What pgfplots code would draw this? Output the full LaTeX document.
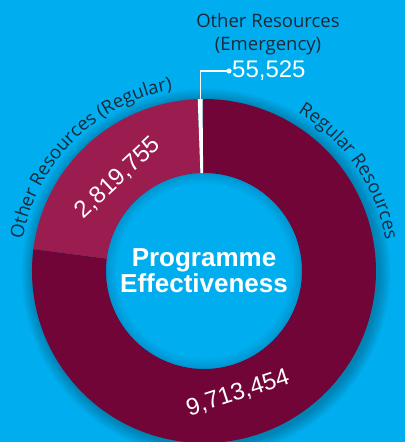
\documentclass[border=0pt]{standalone}
\usepackage{pgfplots}
\usepackage{pgfplotstable}
\pgfplotsset{compat=1.18}
\usepackage{fontspec}
\setmainfont{Liberation Sans}
\newfontfamily\labelfont{Open Sans}
\usetikzlibrary{decorations.text}

\definecolor{bgblue}{HTML}{00AEEF}
\definecolor{regular}{HTML}{720537}
\definecolor{otherreg}{HTML}{9B1C4F}
\definecolor{labeltext}{HTML}{1B2A3A}

% donut data
\pgfplotstableread{
slice value
Emergency 55525
OtherRegular 2819755
Regular 9713454
}\slices

\pgfplotstablegetelem{0}{value}\of\slices \let\vEmer\pgfplotsretval
\pgfplotstablegetelem{1}{value}\of\slices \let\vOther\pgfplotsretval
\pgfplotstablegetelem{2}{value}\of\slices \let\vReg\pgfplotsretval
\edef\total{\fpeval{\vEmer+\vOther+\vReg}}
\def\aStart{90.5}
\edef\aA{\fpeval{\aStart+360*\vEmer/\total}}
\edef\aB{\fpeval{\aA+360*\vOther/\total}}
\edef\aC{\fpeval{\aB+360*\vReg/\total}}

% ring slice: start angle, end angle, colour
\newcommand\ringslice[3]{%
  \fill[#3] (axis cs:204,171) ++(#1:172pt) arc[start angle=#1,end angle=#2,radius=172pt]
    -- ++(#2:-74pt) arc[start angle=#2,end angle=#1,radius=98pt] -- cycle;}

\begin{document}
\begin{tikzpicture}
\begin{axis}[
    scale only axis,
    width=405pt, height=442pt,
    xmin=0, xmax=405, ymin=0, ymax=442,
    hide axis,
]
\fill[bgblue] (axis cs:0,0) rectangle (axis cs:405,442);

% soft shadow round the ring
\pgfplotsinvokeforeach{1,...,9}{
  \fill[black, opacity=0.028, even odd rule] (axis cs:206,169) circle[radius={(172+1.4*#1)*1pt}]
    circle[radius=150pt];
}

\ringslice{\aA}{\aB}{otherreg}
\ringslice{\aB}{\aC}{regular}
\ringslice{\aStart}{\aA}{white}

% darker rim inside the hole
\pgfplotsinvokeforeach{1,...,6}{
  \fill[black, opacity=0.02, even odd rule] (axis cs:204,171) circle[radius=98pt]
    circle[radius={(98-1.8*#1)*1pt}];
}

% callout for the small slice
\draw[white, line width=1.3pt] (axis cs:200.5,343) |- (axis cs:229,371);
\fill[white] (axis cs:229,371) circle[radius=2.6pt];
\node[anchor=west, inner sep=0, white, font=\fontsize{24}{24}\selectfont] at (axis cs:232,371) {55,525};
\node[align=center, text=labeltext, font=\labelfont\fontsize{18.5}{23}\selectfont] at (axis cs:268,408) {Other Resources\\(Emergency)};

% values on the ring
\node[white, rotate=43, font=\fontsize{24}{24}\selectfont] at (axis cs:118,264) {2,819,755};
\node[white, rotate=18, font=\fontsize{24}{24}\selectfont] at (axis cs:238,49) {9,713,454};

% centre title
\node[align=center, white, font=\bfseries\fontsize{26}{26}\selectfont] at (axis cs:204,171) {Programme\\Effectiveness};

% curved labels
\path[decorate, decoration={text along path, text align=center, text color=labeltext,
    text={|\labelfont\fontsize{18.5}{20}\selectfont|Other Resources (Regular)}}]
  (axis cs:204,171) ++(172:184pt) arc[start angle=172, end angle=98, radius=184pt];
\path[decorate, decoration={text along path, text align=center, text color=labeltext,
    text={|\labelfont\fontsize{18.5}{20}\selectfont|Regular Resources}}]
  (axis cs:204,171) ++(66:184pt) arc[start angle=66, end angle=3, radius=184pt];
\end{axis}
\end{tikzpicture}
\end{document}
